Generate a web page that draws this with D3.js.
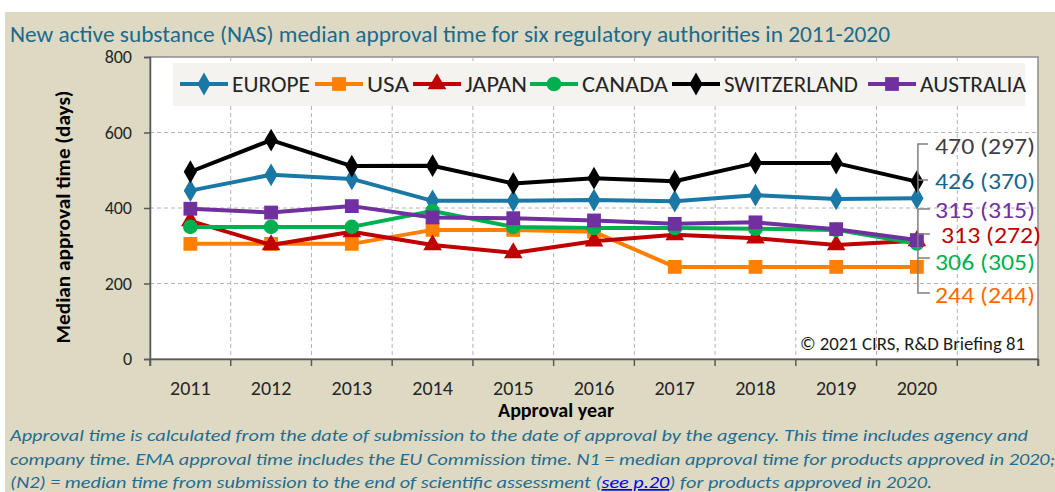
<!DOCTYPE html>
<html>
<head>
<meta charset="utf-8">
<script src="https://cdn.jsdelivr.net/npm/d3@7"></script>
<style>
  html, body { margin: 0; padding: 0; background: #fff; }
  svg { display: block; }
</style>
</head>
<body>
<svg id="chart" width="1055" height="492"></svg>
<script>
// ── Data ──
const years = ["2011", "2012", "2013", "2014", "2015", "2016", "2017", "2018", "2019", "2020"];
const europe      = [446, 488, 477, 419, 419, 421, 418, 434, 424, 426];
const usa         = [305, 305, 305, 342, 342, 337, 244, 244, 244, 244];
const japan       = [366, 302, 337, 302, 281, 312, 329, 320, 302, 313];
const canada      = [350, 350, 350, 392, 350, 347, 347, 345, 342, 306];
const switzerland = [496, 580, 511, 512, 465, 479, 471, 519, 519, 470];
const australia   = [398, 388, 405, 375, 373, 367, 358, 362, 344, 315];
const yTicks = [0, 200, 400, 600, 800];

const series = [
  { name: "EUROPE", values: europe, color: "#1a78a6", symbol: d3.symbolDiamond, size: 150 },
  { name: "USA", values: usa, color: "#ff8000", symbol: d3.symbolSquare, size: 190 },
  { name: "JAPAN", values: japan, color: "#c00000", symbol: d3.symbolTriangle, size: 150 },
  { name: "CANADA", values: canada, color: "#00b050", symbol: d3.symbolCircle, size: 170 },
  { name: "SWITZERLAND", values: switzerland, color: "#000000", symbol: d3.symbolDiamond, size: 150 },
  { name: "AUSTRALIA", values: australia, color: "#7030a0", symbol: d3.symbolSquare, size: 190 },
];

// 2020 end labels: N1 (N2)
const endLabels = [
  { text: "470 (297)", color: "#404040", dy: 146 },
  { text: "426 (370)", color: "#17668e", dy: 181 },
  { text: "315 (315)", color: "#7030a0", dy: 210 },
  { text: "313 (272)", color: "#c00000", dy: 235 },
  { text: "306 (305)", color: "#00b050", dy: 262 },
  { text: "244 (244)", color: "#ff6a00", dy: 295 },
];

const svg = d3.select("#chart");
const W = 1055, H = 492;
const plot = { left: 150, right: 1038, top: 57, bottom: 359 };
const font = "Calibri, Carlito, Lato, sans-serif";

// Background
svg.append("rect").attr("x", 5).attr("y", 12).attr("width", W - 5).attr("height", H - 12).attr("fill", "#ddd9c3");

// Title
svg.append("text")
  .attr("x", 10).attr("y", 42)
  .attr("font-family", font).attr("font-size", 22)
  .attr("fill", "#1b6a8c")
  .attr("textLength", 880).attr("lengthAdjust", "spacingAndGlyphs")
  .text("New active substance (NAS) median approval time for six regulatory authorities in 2011-2020");

// Scales
const x = d3.scaleBand().domain([...years, ""]).range([plot.left, plot.right]).padding(0);
const y = d3.scaleLinear().domain([0, 800]).range([plot.bottom, plot.top]);
const cx = (year) => x(year) + x.bandwidth() / 2;

// Plot area
svg.append("rect")
  .attr("x", plot.left).attr("y", plot.top)
  .attr("width", plot.right - plot.left).attr("height", plot.bottom - plot.top)
  .attr("fill", "#fff").attr("stroke", "#8c8c8c").attr("stroke-width", 1.5);

// Gridlines
const grid = svg.append("g").attr("stroke", "#b4b4b4").attr("stroke-width", 1).attr("stroke-dasharray", "4,3");
grid.selectAll(".hgrid").data(yTicks.filter((v) => v > 0 && v < 800)).join("line")
  .attr("x1", plot.left).attr("x2", plot.right)
  .attr("y1", (v) => y(v)).attr("y2", (v) => y(v));
grid.selectAll(".vgrid").data(x.domain().slice(1)).join("line")
  .attr("x1", (d) => x(d)).attr("x2", (d) => x(d))
  .attr("y1", plot.top).attr("y2", plot.bottom);

// Axes
const yAxis = svg.append("g").attr("transform", `translate(${plot.left},0)`)
  .call(d3.axisLeft(y).tickValues(yTicks).tickSize(6).tickPadding(12));
const xAxis = svg.append("g").attr("transform", `translate(0,${plot.bottom})`)
  .call(d3.axisBottom(x).tickSize(7).tickPadding(14).tickFormat((d) => d));
// band-boundary ticks instead of centre ticks
xAxis.selectAll(".tick line").remove();
xAxis.selectAll(".bound").data([...x.domain(), null]).join("line")
  .attr("x1", (d, i) => plot.left + i * x.bandwidth()).attr("x2", (d, i) => plot.left + i * x.bandwidth())
  .attr("y1", 0).attr("y2", 7).attr("stroke", "#595959").attr("stroke-width", 1.5);
[yAxis, xAxis].forEach((axis) => {
  axis.select(".domain").attr("stroke", "#595959").attr("stroke-width", 1.5);
  axis.selectAll("text").attr("font-family", font).attr("fill", "#262626");
});
yAxis.selectAll("text").attr("font-size", 18);
xAxis.selectAll("text").attr("font-size", 20).attr("dy", "0.75em");
yAxis.selectAll(".tick line").attr("stroke", "#595959").attr("stroke-width", 1.5);

// Axis titles
svg.append("text")
  .attr("transform", `translate(70,${(plot.top + plot.bottom) / 2 + 9}) rotate(-90)`)
  .attr("text-anchor", "middle")
  .attr("font-family", font).attr("font-size", 21).attr("font-weight", "bold")
  .attr("textLength", 253).attr("lengthAdjust", "spacingAndGlyphs")
  .text("Median approval time (days)");
svg.append("text")
  .attr("x", 556).attr("y", 417).attr("text-anchor", "middle")
  .attr("font-family", font).attr("font-size", 20).attr("font-weight", "bold")
  .attr("textLength", 116).attr("lengthAdjust", "spacingAndGlyphs")
  .text("Approval year");

// Lines and markers
const line = d3.line().x((d, i) => cx(years[i])).y((d) => y(d));
series.forEach((s) => {
  const g = svg.append("g");
  g.append("path").datum(s.values)
    .attr("d", line).attr("fill", "none")
    .attr("stroke", s.color).attr("stroke-width", 4).attr("stroke-linejoin", "round");
  g.selectAll("path.marker").data(s.values).join("path")
    .attr("class", "marker")
    .attr("transform", (d, i) => `translate(${cx(years[i])},${y(d)})`)
    .attr("d", d3.symbol(s.symbol, s.size))
    .attr("fill", s.color);
});

// Legend
const legend = svg.append("g");
legend.append("rect").attr("x", 173).attr("y", 63).attr("width", 852).attr("height", 43).attr("fill", "#f4f3ef");
const legendX = [180, 315, 413, 530, 672, 868];
const legendW = [78, 42, 62, 86, 134, 106];
series.forEach((s, i) => {
  const g = legend.append("g").attr("transform", `translate(${legendX[i]},84)`);
  g.append("line").attr("x1", 0).attr("x2", 48).attr("stroke", s.color).attr("stroke-width", 4);
  g.append("path").attr("transform", "translate(24,0)").attr("d", d3.symbol(s.symbol, s.size)).attr("fill", s.color);
  g.append("text").attr("x", 52).attr("y", 8)
    .attr("font-family", font).attr("font-size", 22).attr("fill", "#262626")
    .attr("textLength", legendW[i]).attr("lengthAdjust", "spacingAndGlyphs")
    .text(s.name);
});

// End labels with leader brackets
const lastX = cx("2020");
const bx = lastX + 1;
const leader = svg.append("g").attr("stroke", "#7f7f7f").attr("stroke-width", 1.5).attr("fill", "none");
leader.append("path").attr("d", `M${bx + 10},${endLabels[0].dy - 2}H${bx}V${y(switzerland[9])}M${bx},${endLabels[1].dy - 1}H${bx + 10}M${bx},${endLabels[1].dy - 1}V${y(europe[9]) - 4}`);
leader.append("path").attr("d", `M${bx + 12},${endLabels[2].dy - 1}H${bx}V${endLabels[5].dy - 2}H${bx + 12}M${bx},${endLabels[3].dy - 1}H${bx + 12}M${bx},${endLabels[4].dy - 4}H${bx + 12}`);
svg.selectAll(".endlabel").data(endLabels).join("text")
  .attr("class", "endlabel")
  .attr("x", (d, i) => i === 3 ? 941 : 935).attr("y", (d) => d.dy + 8)
  .attr("font-family", font).attr("font-size", 22)
  .attr("textLength", 100).attr("lengthAdjust", "spacingAndGlyphs")
  .attr("fill", (d) => d.color)
  .text((d) => d.text);

// Source note
svg.append("text")
  .attr("x", 1025).attr("y", 350).attr("text-anchor", "end")
  .attr("font-family", font).attr("font-size", 18).attr("fill", "#1a1a1a")
  .attr("textLength", 225).attr("lengthAdjust", "spacingAndGlyphs")
  .text("© 2021 CIRS, R&D Briefing 81");

// Footnote
const noteColor = "#1f6d92";
const note = svg.append("g").attr("font-family", font).attr("font-size", 17).attr("font-style", "italic").attr("fill", noteColor);
note.append("text").attr("x", 10).attr("y", 441).attr("textLength", 1018).attr("lengthAdjust", "spacingAndGlyphs")
  .text("Approval time is calculated from the date of submission to the date of approval by the agency. This time includes agency and");
note.append("text").attr("x", 10).attr("y", 465).attr("textLength", 1045).attr("lengthAdjust", "spacingAndGlyphs")
  .text("company time. EMA approval time includes the EU Commission time. N1 = median approval time for products approved in 2020;");
const last = note.append("text").attr("x", 10).attr("y", 488).attr("textLength", 922).attr("lengthAdjust", "spacingAndGlyphs");
last.append("tspan").text("(N2) = median time from submission to the end of scientific assessment (");
last.append("tspan").attr("fill", "#0000ee").attr("text-decoration", "underline").text("see p.20");
last.append("tspan").text(") for products approved in 2020.");
</script>
</body>
</html>
